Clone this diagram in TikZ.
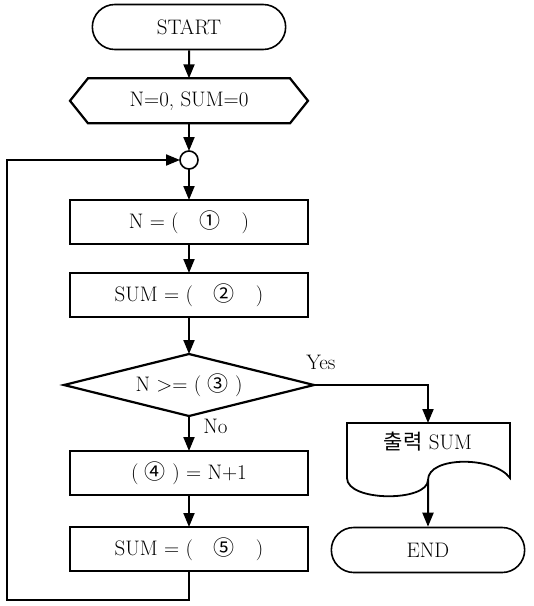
\documentclass[tikz,border=0pt]{standalone}
\usepackage{fontspec}
\newfontfamily\cjk{Noto Sans CJK KR}
\usetikzlibrary{positioning,shapes.geometric,shapes.misc,arrows.meta}
\tikzset{
  >={Triangle[length=14pt,width=11pt]},
  every node/.style={font=\fontsize{21}{25}\selectfont},
  term/.style={draw, rounded rectangle, minimum width=200pt, minimum height=45pt, line width=1.6pt},
  proc/.style={draw, minimum width=238pt, minimum height=44pt, outer sep=0pt, line width=2.2pt},
  prep/.style={minimum width=238pt, minimum height=45pt, outer sep=0pt},
  decision/.style={draw, diamond, aspect=4, minimum width=250pt, minimum height=62pt, inner sep=0pt, outer sep=0pt, line width=2.2pt},
  joint/.style={draw, circle, minimum size=18pt, inner sep=0pt, outer sep=0pt, line width=1.6pt},
  flow/.style={->, line width=2pt},
}
\newcommand{\cnum}[1]{{\cjk #1}}

\begin{document}
\begin{tikzpicture}[x=1pt, y=-1pt]
    \useasboundingbox (0,0) rectangle (534,606);
    % main column
    \node[term] (start) at (189,27) {START};
    \node[prep] (init) [below=28pt of start] {N=0, SUM=0};
    \node[joint] (join) at (189,160) {};
    \node[proc] (n1) [below=31pt of join] {N = (\quad\cnum{①}\quad)};
    \node[proc] (s2) [below=29pt of n1] {SUM = (\quad\cnum{②}\quad)};
    \node[decision] (dec) [below=37pt of s2] {N >= ( \cnum{③} )};
    \node[proc] (n4) [below=35pt of dec] {( \cnum{④} ) = N+1};
    \node[proc] (s5) [below=32pt of n4] {SUM = (\quad\cnum{⑤}\quad)};
    % output side
    \node (out) at (428,442) {{\cjk 출력} SUM};
    \node[term] (end) at (428,550) {END};
    \coordinate (outtop) at (428,423);
    \coordinate (outbot) at (428,480);
    \coordinate (back) at (7,600);

    \draw[line width=2.2pt] (init.west) -- ([xshift=18pt]init.north west)
      -- ([xshift=-18pt]init.north east) -- (init.east)
      -- ([xshift=-18pt]init.south east) -- ([xshift=18pt]init.south west) -- cycle;
    \draw[line width=1.8pt] (347,423) -- (510,423) -- (510,478)
      .. controls (494,456) and (428,456) .. (outbot)
      .. controls (428,502) and (347,502) .. (347,478) -- cycle;

    \path[flow]
      (start) edge (init)
      (init) edge (join)
      (join) edge (n1)
      (n1) edge (s2)
      (s2) edge (dec)
      (dec) edge node [pos=0.3, right=10pt] {No} (n4)
      (n4) edge (s5)
      (outbot) edge (end);
    \draw[flow] (dec) -| node [pos=0.03, above=11pt] {Yes} (outtop);
    \draw[flow] (s5) |- (back) |- (join);
  \end{tikzpicture}
\end{document}
